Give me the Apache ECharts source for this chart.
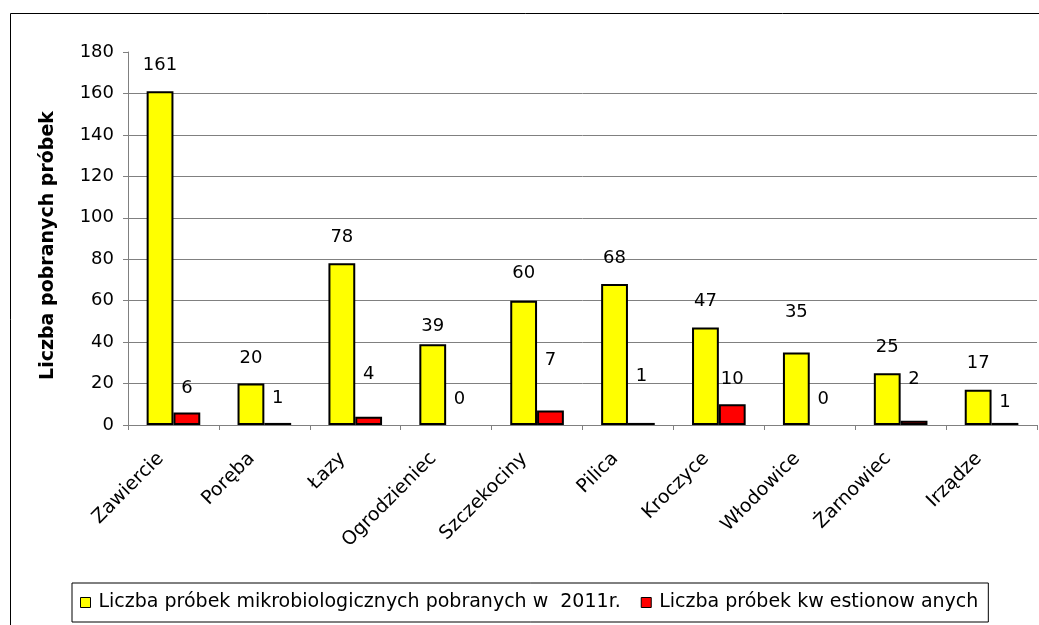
<!DOCTYPE html>
<html>
<head>
<meta charset="utf-8">
<script src="https://cdn.jsdelivr.net/npm/echarts@6/dist/echarts.min.js"></script>
<style>
html,body{margin:0;padding:0;background:#fff;}
#chart{width:1039px;height:625px;}
</style>
</head>
<body>
<div id="chart"></div>
<script>
const categories = ['Zawiercie','Poręba','Łazy','Ogrodzieniec','Szczekociny','Pilica','Kroczyce','Włodowice','Żarnowiec','Irządze'];
const seriesNames = ['Liczba próbek mikrobiologicznych pobranych w  2011r.','Liczba próbek kw estionow anych'];
const sampled = [161, 20, 78, 39, 60, 68, 47, 35, 25, 17];
const questioned = [6, 1, 4, 0, 7, 1, 10, 0, 2, 1];
const yTicks = [0, 20, 40, 60, 80, 100, 120, 140, 160, 180];
const yAxisTitle = 'Liczba pobranych próbek';

// label placement tweaks (style, not data)
const baseDist = 17;
const shiftSampled = [0, -1, 0, -8, 1, 0, 0, 14, 0, 0];
const shiftQuestioned = [-2, -1, 16, 0, 24, 21, -1, 0, 16, -5];

const FONT = 'DejaVu Sans';

function buildData(vals, shifts) {
  return vals.map((v, i) => ({
    value: v,
    itemStyle: v === 0 ? { borderWidth: 0 } : undefined,
    label: { distance: baseDist + shifts[i] }
  }));
}

const chart = echarts.init(document.getElementById('chart'));
const splitColors = yTicks.map((t, i) => i === yTicks.length - 1 ? 'rgba(0,0,0,0)' : '#808080');

chart.setOption({
  backgroundColor: '#fff',
  animation: false,
  graphic: [{
    type: 'rect', silent: true,
    shape: { x: 10.5, y: 13.5, width: 1100, height: 700 },
    style: { fill: 'none', stroke: '#000', lineWidth: 1 }
  }],
  grid: { left: 128, right: 2, top: 52, bottom: 200, containLabel: false },
  legend: {
    left: 72, top: 583,
    padding: [10, 10, 10, 8],
    borderColor: '#000', borderWidth: 1,
    backgroundColor: '#fff',
    itemWidth: 10, itemHeight: 10, itemGap: 20,
    icon: 'rect',
    itemStyle: { borderColor: '#000', borderWidth: 1 },
    textStyle: { fontFamily: FONT, fontSize: 19, color: '#000', padding: [0, 0, 0, 3] },
    data: seriesNames
  },
  xAxis: {
    type: 'category',
    data: categories,
    axisLine: { lineStyle: { color: '#808080', width: 1 } },
    axisTick: { show: true, length: 5, alignWithLabel: false, lineStyle: { color: '#808080' } },
    axisLabel: { rotate: 45, margin: 18, padding: [0, 18, 0, 0], fontFamily: FONT, fontSize: 19, color: '#000', interval: 0 }
  },
  yAxis: {
    type: 'value',
    min: yTicks[0], max: yTicks[yTicks.length - 1], interval: yTicks[1] - yTicks[0],
    name: yAxisTitle,
    nameLocation: 'middle',
    nameGap: 70,
    nameTextStyle: { fontFamily: FONT, fontSize: 19, fontWeight: 'bold', color: '#000', padding: [0, 14, 0, 0] },
    axisLine: { show: true, lineStyle: { color: '#808080', width: 1 } },
    axisTick: { show: true, length: 5, lineStyle: { color: '#808080' } },
    splitLine: { show: true, lineStyle: { color: splitColors, width: 1 } },
    axisLabel: { margin: 14, fontFamily: FONT, fontSize: 18, color: '#000' }
  },
  series: [
    {
      name: seriesNames[0], type: 'bar',
      data: buildData(sampled, shiftSampled),
      barGap: '0%', barCategoryGap: '41%',
      itemStyle: { color: '#FFFF00', borderColor: '#000', borderWidth: 2 },
      label: { show: true, position: 'top', fontFamily: FONT, fontSize: 18, color: '#000' }
    },
    {
      name: seriesNames[1], type: 'bar',
      data: buildData(questioned, shiftQuestioned),
      itemStyle: { color: '#FF0000', borderColor: '#000', borderWidth: 2 },
      label: { show: true, position: 'top', fontFamily: FONT, fontSize: 18, color: '#000' }
    }
  ]
});
</script>
</body>
</html>
